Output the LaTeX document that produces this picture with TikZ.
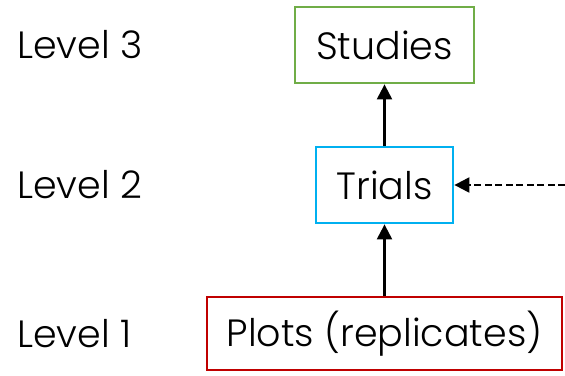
\documentclass[tikz,border=0pt]{standalone}
\usepackage{fontspec}
\setmainfont{Poppins Light}
\usetikzlibrary{arrows.meta}

\definecolor{studygreen}{HTML}{70AD47}
\definecolor{trialblue}{HTML}{00B0F0}
\definecolor{plotred}{HTML}{C00000}

\begin{document}
\begin{tikzpicture}[x=1pt, y=-1pt]
    \tikzstyle{level box}=[
        draw,
        line width = 2.8pt,
        fill = white,
        inner sep = 0pt,
        font = \fontsize{38}{44}\selectfont
    ]
    \tikzstyle{level label}=[
        anchor = west,
        inner sep = 0pt,
        font = \fontsize{38}{44}\selectfont
    ]
    \tikzstyle{up arrow}=[
        line width = 2.2pt,
        -{Triangle[width=15pt, length=15pt]}
    ]

    \useasboundingbox (0,0) rectangle (565,375);

    \node[level label] (l3) at (17, 45)    {Level 3};
    \node[level label] (l2) at (17, 185)   {Level 2};
    \node[level label] (l1) at (17, 333.5) {Level 1};

    \node[level box, draw = studygreen, minimum width = 179pt, minimum height = 76pt]
        (studies) at (384.5, 45)    {Studies};
    \node[level box, draw = trialblue, minimum width = 137pt, minimum height = 76pt]
        (trials)  at (384.5, 185)   {Trials};
    \node[level box, draw = plotred, minimum width = 355pt, minimum height = 73pt]
        (plots)   at (384.5, 333.5) {Plots (replicates)};

    \coordinate (outside) at (565, 185);

    \draw[up arrow] (plots) -- (trials);
    \draw[up arrow] (trials) -- (studies);
    \draw[up arrow, dash pattern = on 7pt off 3.5pt] (outside) -- (trials);

\end{tikzpicture}
\end{document}
